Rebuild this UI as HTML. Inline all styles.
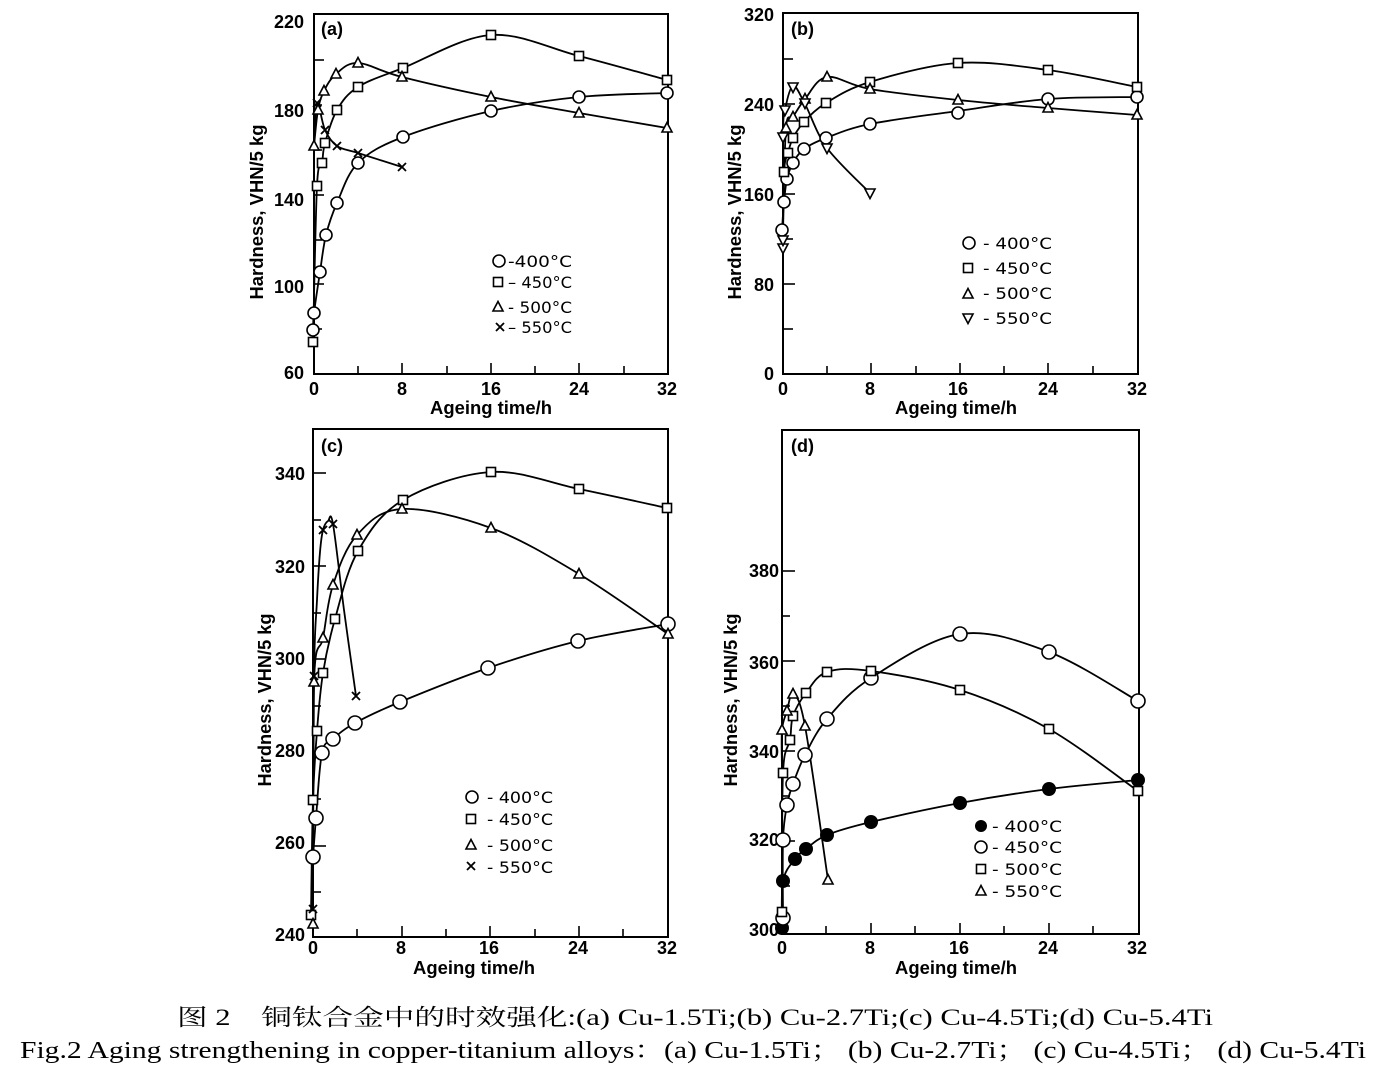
<!DOCTYPE html>
<html><head><meta charset="utf-8">
<style>
html,body{margin:0;padding:0;background:#fff;}
svg{display:block;}
.cv{fill:none;stroke:#000;stroke-width:1.8;stroke-linejoin:round;}
.ax{fill:none;stroke:#000;stroke-width:2;}
.tk{stroke:#000;stroke-width:1.6;}
.tl{font-family:"Liberation Sans",Arial,sans-serif;font-weight:bold;font-size:18px;fill:#000;}
.pl{font-family:"Liberation Sans",Arial,sans-serif;font-weight:bold;font-size:18px;fill:#000;}
.lg{font-family:"DejaVu Sans","Liberation Sans",sans-serif;font-size:16px;fill:#000;}
.cap{font-family:"Liberation Serif","Noto Serif CJK SC",serif;font-size:24px;fill:#000;}
</style></head>
<body>
<svg width="1392" height="1080" viewBox="0 0 1392 1080" xmlns="http://www.w3.org/2000/svg">
<defs>
<circle id="o" r="6" fill="#fff" stroke="#000" stroke-width="1.6"/>
<circle id="O" r="7" fill="#fff" stroke="#000" stroke-width="1.6"/>
<circle id="F" r="7" fill="#000"/>
<circle id="f" r="6" fill="#000"/>
<rect id="s" x="-4.5" y="-4.5" width="9" height="9" fill="#fff" stroke="#000" stroke-width="1.6"/>
<polygon id="t" points="0,-5.5 5,4 -5,4" fill="#fff" stroke="#000" stroke-width="1.6"/>
<polygon id="v" points="-5,-4 5,-4 0,5.5" fill="#fff" stroke="#000" stroke-width="1.6"/>
<path id="x" d="M-4,-4L4,4M4,-4L-4,4" stroke="#000" stroke-width="1.8" fill="none"/>
</defs>

<!-- ================= PANEL A ================= -->
<rect class="ax" x="314" y="14" width="354" height="360"/>
<g class="tk">
<line x1="314" y1="60" x2="324" y2="60"/><line x1="314" y1="105" x2="322" y2="105"/>
<line x1="314" y1="150" x2="322" y2="150"/><line x1="314" y1="195" x2="324" y2="195"/>
<line x1="314" y1="240" x2="322" y2="240"/><line x1="314" y1="284" x2="324" y2="284"/>
<line x1="314" y1="329" x2="322" y2="329"/>
<line x1="358" y1="374" x2="358" y2="366"/><line x1="402" y1="374" x2="402" y2="363"/>
<line x1="447" y1="374" x2="447" y2="366"/><line x1="491" y1="374" x2="491" y2="363"/>
<line x1="535" y1="374" x2="535" y2="366"/><line x1="579" y1="374" x2="579" y2="363"/>
<line x1="624" y1="374" x2="624" y2="366"/>
</g>
<g class="tl" text-anchor="end">
<text x="304" y="28">220</text><text x="304" y="117">180</text><text x="304" y="206">140</text>
<text x="304" y="293">100</text><text x="304" y="379">60</text>
</g>
<g class="tl" text-anchor="middle">
<text x="314" y="395">0</text><text x="402" y="395">8</text><text x="491" y="395">16</text>
<text x="579" y="395">24</text><text x="667" y="395">32</text>
</g>
<text class="tl" x="491" y="414" text-anchor="middle" textLength="122" lengthAdjust="spacingAndGlyphs">Ageing time/h</text>
<text class="tl" x="263" y="212" text-anchor="middle" transform="rotate(-90 263 212)" textLength="175" lengthAdjust="spacingAndGlyphs">Hardness, VHN/5 kg</text>
<text class="pl" x="321" y="35">(a)</text>

<polyline class="cv" points="313,330 314,313 320,272 326,235 337,203 358,163 403,137 491,111 579,97 667,93"/>
<polyline class="cv" points="313,342 317,186 322,163 325,143 337,110 358,87 403,68 491,35 579,56 667,80"/>
<polyline class="cv" points="314,146 318,110 324,91 336,74 358,63 402,77 491,97 579,113 667,128"/>
<polyline class="cv" points="314,150 317,103 325,130 337,146 358,153 402,167"/>
<line class="tk" x1="314" y1="146" x2="314" y2="325"/>

<g>
<use href="#o" x="313" y="330"/><use href="#o" x="314" y="313"/><use href="#o" x="320" y="272"/>
<use href="#o" x="326" y="235"/><use href="#o" x="337" y="203"/><use href="#o" x="358" y="163"/>
<use href="#o" x="403" y="137"/><use href="#o" x="491" y="111"/><use href="#o" x="579" y="97"/>
<use href="#o" x="667" y="93"/>
<use href="#s" x="313" y="342"/><use href="#s" x="317" y="186"/><use href="#s" x="322" y="163"/>
<use href="#s" x="325" y="143"/><use href="#s" x="337" y="110"/><use href="#s" x="358" y="87"/>
<use href="#s" x="403" y="68"/><use href="#s" x="491" y="35"/><use href="#s" x="579" y="56"/>
<use href="#s" x="667" y="80"/>
<use href="#t" x="314" y="146"/><use href="#t" x="318" y="110"/><use href="#t" x="324" y="91"/>
<use href="#t" x="336" y="74"/><use href="#t" x="358" y="63"/><use href="#t" x="402" y="77"/>
<use href="#t" x="491" y="97"/><use href="#t" x="579" y="113"/><use href="#t" x="667" y="128"/>
<use href="#x" x="317" y="103"/><use href="#x" x="325" y="130"/><use href="#x" x="337" y="146"/>
<use href="#x" x="358" y="153"/><use href="#x" x="402" y="167"/>
</g>
<!-- legend a -->
<use href="#o" x="499" y="261"/><use href="#s" x="498" y="282"/><use href="#t" x="498" y="307"/><use href="#x" x="500" y="327"/>
<g class="lg">
<text x="508" y="267" textLength="64" lengthAdjust="spacingAndGlyphs">-400°C</text>
<text x="508" y="288" textLength="64" lengthAdjust="spacingAndGlyphs">– 450°C</text>
<text x="508" y="313" textLength="64" lengthAdjust="spacingAndGlyphs">- 500°C</text>
<text x="508" y="333" textLength="64" lengthAdjust="spacingAndGlyphs">– 550°C</text>
</g>

<!-- ================= PANEL B ================= -->
<rect class="ax" x="783" y="13" width="355" height="361"/>
<g class="tk">
<line x1="783" y1="59" x2="793" y2="59"/><line x1="783" y1="104" x2="795" y2="104"/>
<line x1="783" y1="149" x2="793" y2="149"/><line x1="783" y1="194" x2="795" y2="194"/>
<line x1="783" y1="239" x2="793" y2="239"/><line x1="783" y1="284" x2="795" y2="284"/>
<line x1="783" y1="329" x2="793" y2="329"/>
<line x1="827" y1="374" x2="827" y2="366"/><line x1="871" y1="374" x2="871" y2="363"/>
<line x1="916" y1="374" x2="916" y2="366"/><line x1="960" y1="374" x2="960" y2="363"/>
<line x1="1004" y1="374" x2="1004" y2="366"/><line x1="1048" y1="374" x2="1048" y2="363"/>
<line x1="1093" y1="374" x2="1093" y2="366"/>
</g>
<g class="tl" text-anchor="end">
<text x="774" y="21">320</text><text x="774" y="111">240</text><text x="774" y="201">160</text>
<text x="774" y="291">80</text><text x="774" y="380">0</text>
</g>
<g class="tl" text-anchor="middle">
<text x="783" y="395">0</text><text x="870" y="395">8</text><text x="958" y="395">16</text>
<text x="1048" y="395">24</text><text x="1137" y="395">32</text>
</g>
<text class="tl" x="956" y="414" text-anchor="middle" textLength="122" lengthAdjust="spacingAndGlyphs">Ageing time/h</text>
<text class="tl" x="741" y="212" text-anchor="middle" transform="rotate(-90 741 212)" textLength="175" lengthAdjust="spacingAndGlyphs">Hardness, VHN/5 kg</text>
<text class="pl" x="791" y="35">(b)</text>

<polyline class="cv" points="782,230 784,202 787,179 793,163 804,149 826,138 870,124 958,111 1048,99 1137,97"/>
<polyline class="cv" points="783,240 784,172 788,153 793,138 804,122 826,103 870,82 958,63 1048,70 1137,87"/>
<polyline class="cv" points="783,230 786,128 793,117 805,99 827,77 870,89 958,100 1048,108 1137,115"/>
<polyline class="cv" points="783,248 783,137 785,110 793,86 805,104 827,148 870,193"/>
<g>
<use href="#o" x="782" y="230"/><use href="#o" x="784" y="202"/><use href="#o" x="787" y="179"/>
<use href="#o" x="793" y="163"/><use href="#o" x="804" y="149"/><use href="#o" x="826" y="138"/>
<use href="#o" x="870" y="124"/><use href="#o" x="958" y="113"/><use href="#o" x="1048" y="99"/>
<use href="#o" x="1137" y="97"/>
<use href="#s" x="784" y="172"/><use href="#s" x="788" y="153"/><use href="#s" x="793" y="138"/>
<use href="#s" x="804" y="122"/><use href="#s" x="826" y="103"/><use href="#s" x="870" y="82"/>
<use href="#s" x="958" y="63"/><use href="#s" x="1048" y="70"/><use href="#s" x="1137" y="87"/>
<use href="#t" x="786" y="128"/><use href="#t" x="793" y="117"/><use href="#t" x="805" y="99"/>
<use href="#t" x="827" y="77"/><use href="#t" x="870" y="89"/><use href="#t" x="958" y="100"/>
<use href="#t" x="1048" y="108"/><use href="#t" x="1137" y="115"/>
<use href="#v" x="783" y="248"/><use href="#v" x="783" y="240"/><use href="#v" x="783" y="137"/>
<use href="#v" x="785" y="110"/><use href="#v" x="793" y="87"/><use href="#v" x="805" y="103"/>
<use href="#v" x="827" y="148"/><use href="#v" x="870" y="193"/>
</g>
<use href="#o" x="969" y="243"/><use href="#s" x="968" y="268"/><use href="#t" x="968" y="294"/><use href="#v" x="968" y="318"/>
<g class="lg">
<text x="983" y="249" textLength="69" lengthAdjust="spacingAndGlyphs">- 400°C</text>
<text x="983" y="274" textLength="69" lengthAdjust="spacingAndGlyphs">- 450°C</text>
<text x="983" y="299" textLength="69" lengthAdjust="spacingAndGlyphs">- 500°C</text>
<text x="983" y="324" textLength="69" lengthAdjust="spacingAndGlyphs">- 550°C</text>
</g>

<!-- ================= PANEL C ================= -->
<rect class="ax" x="313" y="429" width="355" height="508"/>
<g class="tk">
<line x1="313" y1="473" x2="326" y2="473"/><line x1="313" y1="520" x2="321" y2="520"/>
<line x1="313" y1="566" x2="326" y2="566"/><line x1="313" y1="613" x2="321" y2="613"/>
<line x1="313" y1="659" x2="326" y2="659"/><line x1="313" y1="706" x2="321" y2="706"/>
<line x1="313" y1="753" x2="326" y2="753"/><line x1="313" y1="799" x2="321" y2="799"/>
<line x1="313" y1="846" x2="326" y2="846"/><line x1="313" y1="892" x2="321" y2="892"/>
<line x1="357" y1="937" x2="357" y2="929"/><line x1="402" y1="937" x2="402" y2="926"/>
<line x1="446" y1="937" x2="446" y2="929"/><line x1="490" y1="937" x2="490" y2="926"/>
<line x1="535" y1="937" x2="535" y2="929"/><line x1="579" y1="937" x2="579" y2="926"/>
<line x1="623" y1="937" x2="623" y2="929"/>
</g>
<g class="tl" text-anchor="end">
<text x="305" y="480">340</text><text x="305" y="573">320</text><text x="305" y="665">300</text>
<text x="305" y="757">280</text><text x="305" y="849">260</text><text x="305" y="941">240</text>
</g>
<g class="tl" text-anchor="middle">
<text x="313" y="954">0</text><text x="401" y="954">8</text><text x="489" y="954">16</text>
<text x="578" y="954">24</text><text x="667" y="954">32</text>
</g>
<text class="tl" x="474" y="974" text-anchor="middle" textLength="122" lengthAdjust="spacingAndGlyphs">Ageing time/h</text>
<text class="tl" x="271" y="700" text-anchor="middle" transform="rotate(-90 271 700)" textLength="173" lengthAdjust="spacingAndGlyphs">Hardness, VHN/5 kg</text>
<text class="pl" x="321" y="452">(c)</text>

<polyline class="cv" points="313,857 316,818 322,753 333,739 355,723 400,702 488,668 578,641 668,624"/>
<polyline class="cv" points="311,915 313,800 317,731 323,673 335,619 358,551 403,500 491,472 579,489 667,508"/>
<polyline class="cv" points="313,924 314,682 323,638 333,585 357,535 402,509 491,528 579,574 668,634"/>
<polyline class="cv" points="313,909 314,676 317,600 320,552 323,530 328,521 333,524 344,610 356,696"/>
<g>
<use href="#O" x="313" y="857"/><use href="#O" x="316" y="818"/><use href="#O" x="322" y="753"/>
<use href="#O" x="333" y="739"/><use href="#O" x="355" y="723"/><use href="#O" x="400" y="702"/>
<use href="#O" x="488" y="668"/><use href="#O" x="578" y="641"/><use href="#O" x="668" y="624"/>
<use href="#s" x="311" y="915"/><use href="#s" x="313" y="800"/><use href="#s" x="317" y="731"/>
<use href="#s" x="323" y="673"/><use href="#s" x="335" y="619"/><use href="#s" x="358" y="551"/>
<use href="#s" x="403" y="500"/><use href="#s" x="491" y="472"/><use href="#s" x="579" y="489"/>
<use href="#s" x="667" y="508"/>
<use href="#t" x="313" y="924"/><use href="#t" x="314" y="682"/><use href="#t" x="323" y="638"/>
<use href="#t" x="333" y="585"/><use href="#t" x="357" y="535"/><use href="#t" x="402" y="509"/>
<use href="#t" x="491" y="528"/><use href="#t" x="579" y="574"/><use href="#t" x="668" y="634"/>
<use href="#x" x="313" y="909"/><use href="#x" x="314" y="676"/><use href="#x" x="323" y="530"/>
<use href="#x" x="333" y="524"/><use href="#x" x="356" y="696"/>
</g>
<use href="#o" x="472" y="797"/><use href="#s" x="471" y="819"/><use href="#t" x="471" y="845"/><use href="#x" x="471" y="866"/>
<g class="lg">
<text x="487" y="803" textLength="66" lengthAdjust="spacingAndGlyphs">- 400°C</text>
<text x="487" y="825" textLength="66" lengthAdjust="spacingAndGlyphs">- 450°C</text>
<text x="487" y="851" textLength="66" lengthAdjust="spacingAndGlyphs">- 500°C</text>
<text x="487" y="873" textLength="66" lengthAdjust="spacingAndGlyphs">- 550°C</text>
</g>

<!-- ================= PANEL D ================= -->
<rect class="ax" x="782" y="430" width="357" height="504"/>
<g class="tk">
<line x1="782" y1="571" x2="795" y2="571"/><line x1="782" y1="616" x2="790" y2="616"/>
<line x1="782" y1="661" x2="795" y2="661"/><line x1="782" y1="706" x2="790" y2="706"/>
<line x1="782" y1="751" x2="795" y2="751"/><line x1="782" y1="796" x2="790" y2="796"/>
<line x1="782" y1="841" x2="795" y2="841"/><line x1="782" y1="886" x2="790" y2="886"/>
<line x1="826" y1="934" x2="826" y2="926"/><line x1="871" y1="934" x2="871" y2="923"/>
<line x1="915" y1="934" x2="915" y2="926"/><line x1="960" y1="934" x2="960" y2="923"/>
<line x1="1004" y1="934" x2="1004" y2="926"/><line x1="1049" y1="934" x2="1049" y2="923"/>
<line x1="1093" y1="934" x2="1093" y2="926"/>
</g>
<g class="tl" text-anchor="end">
<text x="779" y="577">380</text><text x="779" y="669">360</text><text x="779" y="758">340</text>
<text x="779" y="846">320</text><text x="779" y="936">300</text>
</g>
<g class="tl" text-anchor="middle">
<text x="782" y="954">0</text><text x="870" y="954">8</text><text x="959" y="954">16</text>
<text x="1048" y="954">24</text><text x="1137" y="954">32</text>
</g>
<text class="tl" x="956" y="974" text-anchor="middle" textLength="122" lengthAdjust="spacingAndGlyphs">Ageing time/h</text>
<text class="tl" x="737" y="700" text-anchor="middle" transform="rotate(-90 737 700)" textLength="173" lengthAdjust="spacingAndGlyphs">Hardness, VHN/5 kg</text>
<text class="pl" x="791" y="452">(d)</text>

<polyline class="cv" points="782,928 783,881 795,859 806,849 827,835 871,822 960,803 1049,789 1138,780"/>
<polyline class="cv" points="783,918 783,840 787,805 793,784 805,755 827,719 871,678 960,634 1049,652 1138,701"/>
<polyline class="cv" points="782,912 783,773 790,740 793,716 806,693 827,672 871,671 960,690 1049,729 1138,791"/>
<polyline class="cv" points="782,770 782,730 787,711 793,694 805,726 828,880"/>
<g>
<use href="#F" x="782" y="928"/><use href="#F" x="783" y="881"/><use href="#F" x="795" y="859"/>
<use href="#F" x="806" y="849"/><use href="#F" x="827" y="835"/><use href="#F" x="871" y="822"/>
<use href="#F" x="960" y="803"/><use href="#F" x="1049" y="789"/><use href="#F" x="1138" y="780"/>
<use href="#O" x="783" y="918"/><use href="#O" x="783" y="840"/><use href="#O" x="787" y="805"/>
<use href="#O" x="793" y="784"/><use href="#O" x="805" y="755"/><use href="#O" x="827" y="719"/>
<use href="#O" x="871" y="678"/><use href="#O" x="960" y="634"/><use href="#O" x="1049" y="652"/>
<use href="#O" x="1138" y="701"/>
<use href="#s" x="782" y="912"/><use href="#s" x="783" y="773"/><use href="#s" x="790" y="740"/>
<use href="#s" x="793" y="716"/><use href="#s" x="806" y="693"/><use href="#s" x="827" y="672"/>
<use href="#s" x="871" y="671"/><use href="#s" x="960" y="690"/><use href="#s" x="1049" y="729"/>
<use href="#s" x="1138" y="791"/>
<use href="#t" x="782" y="730"/><use href="#t" x="787" y="711"/><use href="#t" x="793" y="694"/>
<use href="#t" x="805" y="726"/><use href="#t" x="828" y="880"/>
</g>
<use href="#f" x="981" y="826"/><use href="#o" x="981" y="847"/><use href="#s" x="981" y="869"/><use href="#t" x="981" y="891"/>
<g class="lg">
<text x="992" y="832" textLength="70" lengthAdjust="spacingAndGlyphs">- 400°C</text>
<text x="992" y="853" textLength="70" lengthAdjust="spacingAndGlyphs">- 450°C</text>
<text x="992" y="875" textLength="70" lengthAdjust="spacingAndGlyphs">- 500°C</text>
<text x="992" y="897" textLength="70" lengthAdjust="spacingAndGlyphs">- 550°C</text>
</g>

<!-- ================= CAPTION ================= -->
<text class="cap" x="177" y="1025" style="font-family:'Liberation Serif','Noto Serif CJK SC',serif;font-size:23px" textLength="1036" lengthAdjust="spacingAndGlyphs">图 2　铜钛合金中的时效强化:(a) Cu-1.5Ti;(b) Cu-2.7Ti;(c) Cu-4.5Ti;(d) Cu-5.4Ti</text>
<text class="cap" x="20" y="1058" textLength="1346" lengthAdjust="spacingAndGlyphs">Fig.2 Aging strengthening in copper-titanium alloys：(a) Cu-1.5Ti； (b) Cu-2.7Ti； (c) Cu-4.5Ti； (d) Cu-5.4Ti</text>
</svg>
<script>
(function(){
  var NS='http://www.w3.org/2000/svg';
  var pls=document.querySelectorAll('polyline.cv');
  for(var k=0;k<pls.length;k++){
    var pl=pls[k];
    var pts=pl.getAttribute('points').trim().split(/\s+/).map(function(p){return p.split(',').map(Number);});
    var d='M'+pts[0][0]+','+pts[0][1];
    for(var i=0;i<pts.length-1;i++){
      var p0=pts[i-1]||pts[i],p1=pts[i],p2=pts[i+1],p3=pts[i+2]||pts[i+1];
      var c1x=p1[0]+(p2[0]-p0[0])/6,c1y=p1[1]+(p2[1]-p0[1])/6;
      var c2x=p2[0]-(p3[0]-p1[0])/6,c2y=p2[1]-(p3[1]-p1[1])/6;
      d+=' C'+c1x.toFixed(2)+','+c1y.toFixed(2)+' '+c2x.toFixed(2)+','+c2y.toFixed(2)+' '+p2[0]+','+p2[1];
    }
    var path=document.createElementNS(NS,'path');
    path.setAttribute('d',d);
    path.setAttribute('class','cv');
    pl.parentNode.replaceChild(path,pl);
  }
})();
</script>
</body></html>
